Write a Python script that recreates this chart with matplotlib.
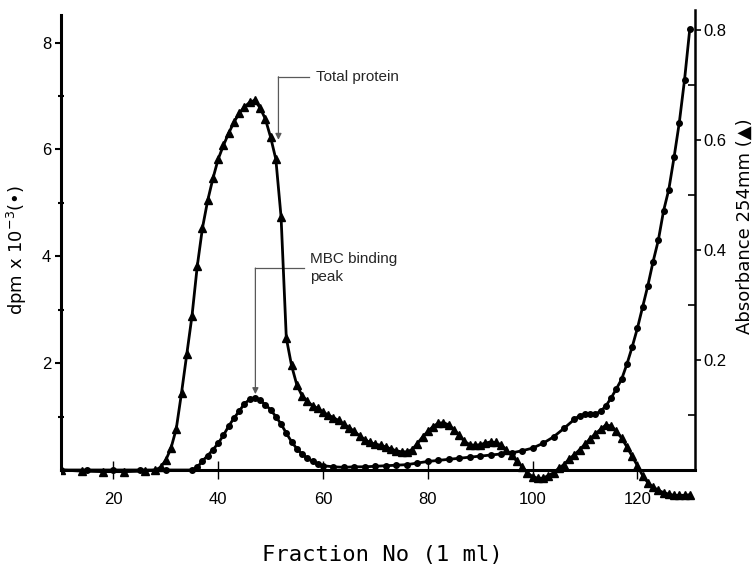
import matplotlib

matplotlib.use("Agg")
import matplotlib.pyplot as plt

# dpm x 10^-3 (circles, left axis)
dpm_fraction = [10, 15, 20, 25, 30, 35, 36, 37, 38, 39, 40, 41, 42, 43, 44, 45, 46, 47,
                48, 49, 50, 51, 52, 53, 54, 55, 56, 57, 58, 59, 60, 62, 64, 66, 68, 70,
                72, 74, 76, 78, 80, 82, 84, 86, 88, 90, 92, 94, 96, 98, 100, 102, 104,
                106, 108, 109, 110, 111, 112, 113, 114, 115, 116, 117, 118, 119, 120,
                121, 122, 123, 124, 125, 126, 127, 128, 129, 130]
dpm = [0.0, 0.0, 0.0, 0.0, 0.0, 0.0, 0.05, 0.17, 0.27, 0.38, 0.5, 0.65, 0.82, 0.97,
       1.1, 1.24, 1.32, 1.35, 1.31, 1.22, 1.13, 1.0, 0.86, 0.69, 0.53, 0.4, 0.3, 0.22,
       0.16, 0.11, 0.08, 0.06, 0.05, 0.06, 0.06, 0.07, 0.08, 0.09, 0.1, 0.13, 0.16,
       0.18, 0.2, 0.22, 0.24, 0.26, 0.28, 0.3, 0.32, 0.36, 0.41, 0.5, 0.62, 0.78, 0.95,
       1.02, 1.04, 1.04, 1.05, 1.1, 1.2, 1.35, 1.52, 1.7, 1.98, 2.3, 2.65, 3.05, 3.45,
       3.9, 4.3, 4.85, 5.25, 5.85, 6.5, 7.3, 8.25]

# Absorbance 254 nm (triangles, right axis)
abs_fraction = [10, 14, 18, 22, 26, 28, 29, 30, 31, 32, 33, 34, 35, 36, 37, 38, 39, 40,
                41, 42, 43, 44, 45, 46, 47, 48, 49, 50, 51, 52, 53, 54, 55, 56, 57, 58,
                59, 60, 61, 62, 63, 64, 65, 66, 67, 68, 69, 70, 71, 72, 73, 74, 75, 76,
                77, 78, 79, 80, 81, 82, 83, 84, 85, 86, 87, 88, 89, 90, 91, 92, 93, 94,
                95, 96, 97, 98, 99, 100, 101, 102, 103, 104, 105, 106, 107, 108, 109,
                110, 111, 112, 113, 114, 115, 116, 117, 118, 119, 120, 121, 122, 123,
                124, 125, 126, 127, 128, 129, 130]
absorbance = [0.0, -0.002, -0.003, -0.003, -0.002, 0.0, 0.005, 0.018, 0.04, 0.075, 0.14,
              0.21, 0.28, 0.37, 0.44, 0.49, 0.53, 0.565, 0.59, 0.612, 0.632, 0.648, 0.66,
              0.668, 0.672, 0.658, 0.638, 0.605, 0.565, 0.46, 0.24, 0.19, 0.155, 0.135,
              0.125, 0.117, 0.112, 0.105, 0.1, 0.095, 0.09, 0.083, 0.077, 0.07, 0.062,
              0.055, 0.05, 0.047, 0.045, 0.042, 0.038, 0.035, 0.033, 0.033, 0.037, 0.048,
              0.06, 0.07, 0.079, 0.085, 0.086, 0.082, 0.073, 0.063, 0.052, 0.046, 0.045,
              0.046, 0.049, 0.051, 0.05, 0.046, 0.036, 0.027, 0.016, 0.006, -0.005,
              -0.012, -0.015, -0.015, -0.01, -0.005, 0.003, 0.01, 0.02, 0.028, 0.037,
              0.047, 0.057, 0.066, 0.074, 0.082, 0.08, 0.07, 0.058, 0.042, 0.025, 0.008,
              -0.01, -0.023, -0.031, -0.037, -0.041, -0.044, -0.046, -0.046, -0.046,
              -0.045]

x_ticks = [20, 40, 60, 80, 100, 120]
dpm_ticks = [2, 4, 6, 8]
dpm_minor = [1, 3, 5, 7]
abs_ticks = [0.2, 0.4, 0.6, 0.8]
abs_minor = [0.1, 0.3, 0.5, 0.7]
abs_labels = ["0.2", "0.4", "0.6", "0.8"]


def add_leader(ax, text, x_text, y_line, x_arrow, y_tip):
    """Draw a bracket-style leader: horizontal stub, then a downward arrow."""
    ax.plot([x_text - 1.3, x_arrow], [y_line, y_line], color="0.35", lw=0.9, zorder=1)
    ax.annotate(
        "",
        xy=(x_arrow, y_tip),
        xytext=(x_arrow, y_line),
        arrowprops=dict(arrowstyle="-|>", color="0.35", lw=0.9,
                        mutation_scale=9, shrinkA=0, shrinkB=0),
        zorder=1,
    )
    ax.text(x_text, y_line, text, fontsize=11, va="center", ha="left",
            color="0.15", linespacing=1.35)


def main():
    plt.rcParams["font.family"] = ["Liberation Sans", "DejaVu Sans"]

    fig = plt.figure(figsize=(7.55, 5.67), dpi=100)
    ax = fig.add_axes([61 / 755, 62 / 567, 634 / 755, 495 / 567])
    ax2 = ax.twinx()

    ax.set_xlim(10, 131)
    ax.set_ylim(-0.655, 8.61)
    ax2.set_ylim(-0.0636, 0.836)

    ax.plot(dpm_fraction, dpm, "-o", color="k", lw=2, ms=4, zorder=3)
    ax2.plot(abs_fraction, absorbance, "-^", color="k", lw=2, ms=5.5, zorder=3)

    # spines
    ax.spines["top"].set_visible(False)
    ax.spines["right"].set_visible(False)
    ax.spines["left"].set_bounds(0, 8.52)
    ax.spines["left"].set_linewidth(2.2)
    ax.spines["bottom"].set_position(("data", 0))
    ax.spines["bottom"].set_linewidth(2.2)
    for side in ["top", "left", "bottom"]:
        ax2.spines[side].set_visible(False)
    ax2.spines["right"].set_bounds(0, 0.836)
    ax2.spines["right"].set_linewidth(1.8)

    # ticks
    ax.set_xticks(x_ticks)
    ax.tick_params(axis="x", direction="inout", length=13, width=1, pad=9, labelsize=12)
    ax.set_yticks(dpm_ticks)
    ax.set_yticks(dpm_minor, minor=True)
    ax.tick_params(axis="y", which="major", direction="out", length=4, width=1.5,
                   pad=3, labelsize=12)
    ax.tick_params(axis="y", which="minor", direction="inout", length=5, width=1.5)
    ax2.set_yticks(abs_ticks)
    ax2.set_yticklabels(abs_labels)
    ax2.set_yticks(abs_minor, minor=True)
    ax2.tick_params(axis="y", which="major", direction="out", length=4, width=1.2,
                    pad=2, labelsize=12)
    ax2.tick_params(axis="y", which="minor", direction="in", length=5, width=1.2)

    # axis labels
    fig.text(17 / 755, 1 - 250 / 567, r"dpm x 10$^{-3}$(•)", rotation=90,
             ha="center", va="center", fontsize=13, family=["DejaVu Sans"])
    fig.text(745 / 755, 1 - 226 / 567, "Absorbance 254mm (▲)", rotation=90,
             ha="center", va="center", fontsize=13, family=["DejaVu Sans"])
    fig.text(382 / 755, 1 - 555 / 567, "Fraction No (1 ml)", ha="center", va="center",
             fontsize=16, family=["DejaVu Sans Mono"])

    # annotations
    add_leader(ax, "Total protein", 58.6, 7.36, 51.5, 6.18)
    add_leader(ax, "MBC binding\npeak", 57.6, 3.78, 47.1, 1.42)

    fig.savefig("out.png", dpi=100)
    plt.close(fig)


if __name__ == "__main__":
    main()
